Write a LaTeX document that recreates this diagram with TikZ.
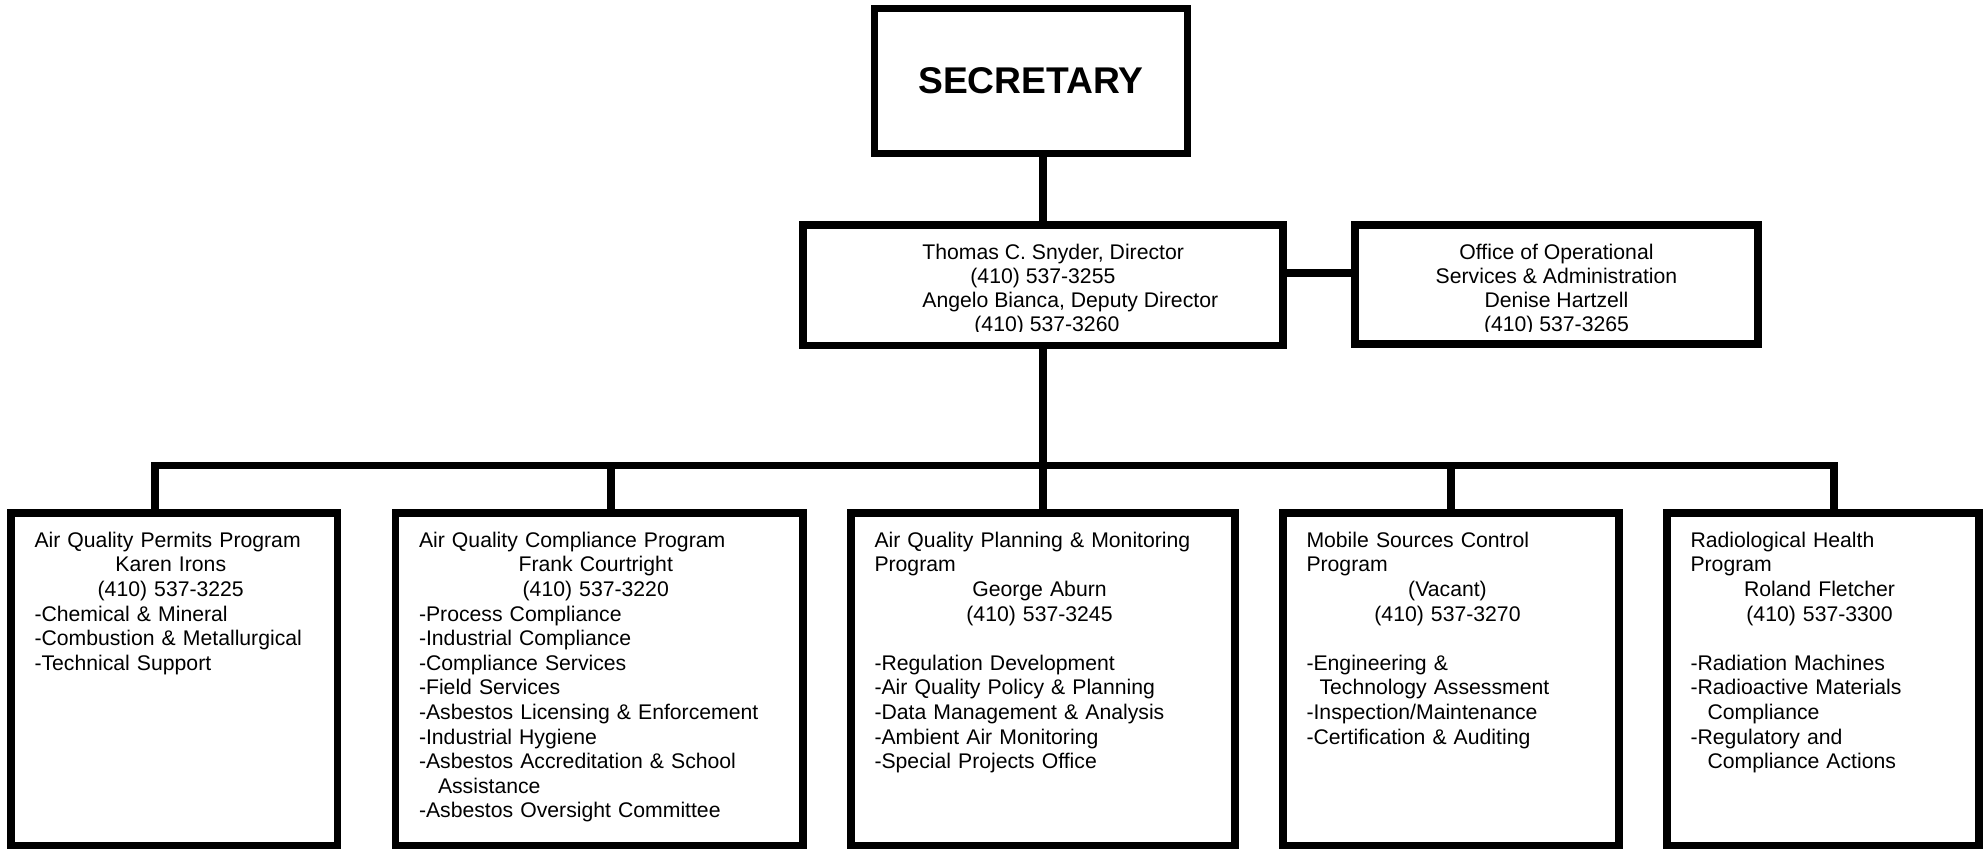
\documentclass[tikz,border=0pt]{standalone}
\usepackage{fontspec}
\setmainfont{Liberation Sans}
\usetikzlibrary{calc}
\tikzstyle{box}=[draw, line width=3.9pt, inner sep=0pt]
\tikzstyle{txt}=[inner sep=0pt, font=\fontsize{10.6}{12.3}\selectfont]
\tikzstyle{list}=[txt, align=left, anchor=north west]
\tikzstyle{link}=[draw, line width=3.9pt]
\newcommand{\ctr}[1]{\makebox[\hsize]{#1}}

\begin{document}
\begin{tikzpicture}[x=0.5pt, y=-0.5pt]
  \useasboundingbox (0,0) rectangle (1988,849);

  % top boxes
  \node[box, minimum width=156.5pt, minimum height=72.5pt, font=\fontsize{18.6}{22}\selectfont\bfseries] (sec) at (1031,81) {SECRETARY};
  \node[box, minimum width=240pt, minimum height=60.25pt] (dir) at (1043,285.25) {};
  \node[box, minimum width=201.5pt, minimum height=59.5pt] (ops) at (1556.5,284.5) {};

  \begin{scope}
    \clip (807,229) rectangle (1279,332);
    \node[txt, align=left, anchor=north west, font=\fontsize{10.6}{11.9}\selectfont] (dirtxt) at (922,244)
      {Thomas C. Snyder, Director\\ \hspace*{24pt}(410) 537-3255\\ Angelo Bianca, Deputy Director\\ \hspace*{26pt}(410) 537-3260};
  \end{scope}
  \begin{scope}
    \clip (1359,229) rectangle (1754,332);
    \node[txt, align=center, anchor=north, font=\fontsize{10.6}{11.9}\selectfont] (opstxt) at (1556.5,244)
      {Office of Operational\\ Services \& Administration\\ Denise Hartzell\\ (410) 537-3265};
  \end{scope}

  % program boxes
  \foreach \n/\x/\w in {perm/174.25/163.25, comp/599.25/203.75, plan/1043/192, mob/1451/168, rad/1823/156}
    \node[box, minimum width=\w pt, minimum height=166.25pt] (\n) at (\x,679.25) {};

  \node[list, text width=136.25pt] (permtxt) at ([shift={(13.5pt,-11.25pt)}]perm.north west)
    {Air Quality Permits Program\\ \ctr{Karen Irons}\\ \ctr{(410) 537-3225}\\
     -Chemical \& Mineral\\ -Combustion \& Metallurgical\\ -Technical Support};
  \node[list, text width=176.75pt] (comptxt) at ([shift={(13.5pt,-11.25pt)}]comp.north west)
    {Air Quality Compliance Program\\ \ctr{Frank Courtright}\\ \ctr{(410) 537-3220}\\
     -Process Compliance\\ -Industrial Compliance\\ -Compliance Services\\ -Field Services\\
     -Asbestos Licensing \& Enforcement\\ -Industrial Hygiene\\ -Asbestos Accreditation \& School\\
     \hspace*{9.5pt}Assistance\\ -Asbestos Oversight Committee};
  \node[list, text width=165pt] (plantxt) at ([shift={(13.5pt,-11.25pt)}]plan.north west)
    {Air Quality Planning \& Monitoring\\ Program\\ \ctr{George Aburn}\\ \ctr{(410) 537-3245}\\ \mbox{}\\
     -Regulation Development\\ -Air Quality Policy \& Planning\\ -Data Management \& Analysis\\
     -Ambient Air Monitoring\\ -Special Projects Office};
  \node[list, text width=141pt] (mobtxt) at ([shift={(13.5pt,-11.25pt)}]mob.north west)
    {Mobile Sources Control\\ Program\\ \ctr{(Vacant)}\\ \ctr{(410) 537-3270}\\ \mbox{}\\
     -Engineering \&\\ \hspace*{6.5pt}Technology Assessment\\ -Inspection/Maintenance\\
     -Certification \& Auditing};
  \node[list, text width=129pt] (radtxt) at ([shift={(13.5pt,-11.25pt)}]rad.north west)
    {Radiological Health\\ Program\\ \ctr{Roland Fletcher}\\ \ctr{(410) 537-3300}\\ \mbox{}\\
     -Radiation Machines\\ -Radioactive Materials\\ \hspace*{8.5pt}Compliance\\
     -Regulatory and\\ \hspace*{8.5pt}Compliance Actions};

  % connectors
  \coordinate (bus) at (1043,465.5);
  \draw[link] (dir.north |- sec.south) -- (dir.north);
  \draw[link] ([yshift=6pt]dir.east) -- ([yshift=6pt]dir.east -| ops.west);
  \draw[link] (dir.south) -- (plan.north);
  \draw[link] ([xshift=-9.6pt]perm.north) |- (bus) -| ([xshift=5.5pt]rad.north);
  \draw[link] ([xshift=5.9pt]comp.north) -- ([xshift=5.9pt]comp.north |- bus);
  \draw[link] (mob.north) -- (mob.north |- bus);
\end{tikzpicture}
\end{document}
